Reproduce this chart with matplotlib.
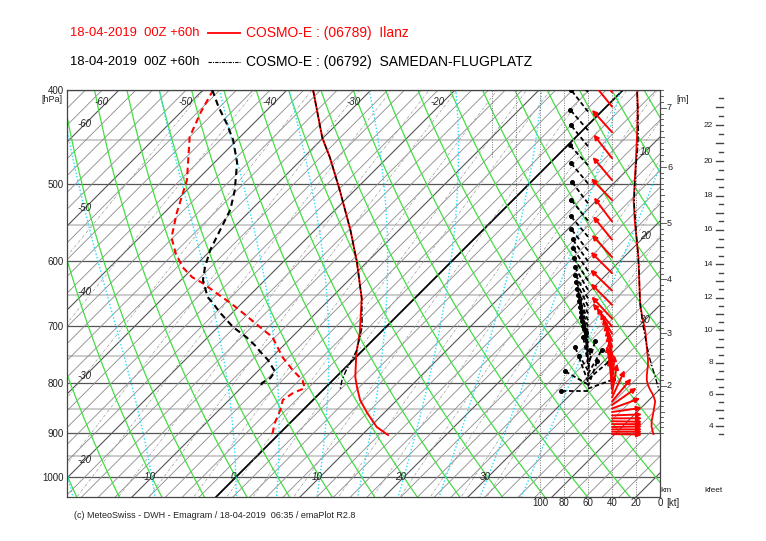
import numpy as np
import matplotlib.pyplot as plt
from matplotlib.lines import Line2D
from matplotlib.patches import FancyArrowPatch
from matplotlib.ticker import NullLocator
from matplotlib.transforms import blended_transform_factory

plt.rcParams['font.family'] = ['Liberation Sans', 'DejaVu Sans']

# ---------------- data ----------------
# Ilanz (06789): temperature and dew point [hPa, degC]
ilanz_p = [400, 448, 469, 507, 557, 601, 655, 711, 746, 789, 808, 833, 859, 888, 905]
ilanz_t = [-36.9, -30.1, -26.9, -21.8, -15.8, -11.2, -6.3, -2.4, -0.4, 2.3, 3.7, 5.6, 8.0, 10.8, 13.1]
ilanz_td_p = [400, 422, 447, 495, 535, 567, 588, 608, 623, 632, 647, 662, 678, 701, 718,
              753, 776, 795, 810, 819, 833, 853, 880, 905]
ilanz_td = [-48.8, -47.6, -46.0, -41.2, -38.5, -36.2, -33.9, -31.4, -29.0, -27.0, -24.2, -21.4,
            -18.7, -15.0, -12.3, -8.7, -6.0, -3.6, -2.4, -3.2, -3.6, -2.7, -1.8, -0.7]

# Samedan (06792)
samedan_p = [400, 448, 469, 507, 557, 601, 655, 700, 718, 741, 763, 779, 795, 813]
samedan_t = [-36.9, -30.1, -26.9, -21.8, -15.8, -11.2, -6.3, -2.9, -1.9, -0.7, 0.0, 0.5, 1.1, 2.0]
samedan_td_p = [400, 416, 433, 450, 475, 507, 531, 557, 584, 608, 627, 653, 662, 678, 701,
                718, 735, 741, 758, 779, 791, 800, 810]
samedan_td = [-48.9, -46.2, -43.2, -40.5, -37.3, -34.3, -32.5, -31.3, -30.1, -28.7, -27.4, -24.8,
              -23.5, -21.4, -18.2, -15.4, -13.0, -12.3, -10.1, -7.9, -7.7, -8.1, -7.7]

# winds: level [hPa], speed [kt], direction the wind comes from [deg]
ilanz_wp = [402, 416, 442, 470, 495, 519, 546, 570, 594, 617, 643, 665, 687, 700, 712, 724, 735,
            746, 756, 766, 776, 786, 795, 804, 812, 820, 828, 836, 843, 850, 857, 864, 870,
            876, 882, 888, 893, 898, 903]
ilanz_ws = [19, 18.5, 19, 20, 21, 22, 21, 19.5, 18, 17.5, 17, 16.5, 14.5, 13, 12, 11.5, 11,
            10.5, 10, 10, 10.5, 11, 11, 10, 8.5, 6.5, 5, 4, 4.5, 5, 5.5, 6, 6.5,
            7, 7, 7, 6.5, 6, 5.5]
ilanz_wd = [141, 141, 138, 142, 140, 136, 143, 141, 138, 135, 134, 135, 137, 140, 150, 158, 163,
            167, 170, 172, 175, 170, 178, 185, 175, 190, 205, 220, 235, 250, 262, 268, 270,
            271, 270, 269, 270, 270, 271]

samedan_wp = [402, 421, 440, 457, 478, 499, 523, 545, 566, 585, 600, 614, 628, 642, 655, 667, 679,
              690, 700, 710, 719, 728, 736, 744, 751, 758, 765, 771, 777, 783, 788, 793, 798,
              803, 807, 811, 815]
samedan_ws = [19, 18.5, 18, 18.5, 20, 21, 21.5, 20.5, 19.5, 18.5, 18, 17.5, 17.2, 17, 16.8, 16.3, 15.5,
              14.8, 14, 13, 12.2, 11.4, 10.6, 9.8, 9, 8.2, 7.2, 6.4, 5.6, 4.8, 4, 3.4, 2.8,
              2.2, 1.7, 1.2, 0.8]
samedan_wd = [140, 142, 139, 141, 138, 140, 143, 141, 140, 142, 145, 147, 148, 150, 152, 154, 156,
              158, 160, 162, 164, 166, 168, 170, 172, 175, 170, 195, 150, 210, 185, 230, 160,
              120, 200, 250, 90]

# height scale on the right: km and matching pressure
height_km = [1, 2, 3, 4, 5, 6, 7, 7.5]
height_p = [911, 805, 711, 626, 548, 480, 417, 389]

pressure_ticks = [400, 500, 600, 700, 800, 900, 1000]
pseudo_tw = [-20, -10, 0, 5, 10, 15, 20, 25, 30, 35]
kt_grid = [20, 40, 60, 80, 100, 120, 140]
kt_grid_pbot = [1048, 1048, 1048, 1048, 1048, 544, 469]
kt_labels = [100, 80, 60, 40, 20, 0]

# ---------------- diagram geometry ----------------
W, H = 766, 541
fig = plt.figure(figsize=(W / 100, H / 100), dpi=100)
ax = fig.add_axes([67 / W, 1 - 497 / H, 593 / W, 407 / H])

P_BOT, P_TOP = 1048, 400
X_L, X_R = -20.1, 50.5
PX_X = 593 / (X_R - X_L)
PX_LN = 407 / np.log(P_BOT / P_TOP)
K = PX_LN / PX_X


def skx(t, p):
    return np.asarray(t, float) + K * np.log(1000.0 / np.asarray(p, float))


def kt2x(kt):
    return X_R - np.asarray(kt, float) * 1.2 / PX_X


def h2p(h):
    return np.exp(np.interp(h, height_km, np.log(height_p)))


def axfx(px):
    return (px - 67) / 593


pp = np.geomspace(P_BOT * 1.01, P_TOP * 0.99, 100)

# pressure lines
for p in range(450, 1000, 100):
    ax.axhline(p, color='#cccccc', lw=1.4, zorder=1)
for p in range(400, 1001, 100):
    ax.axhline(p, color='#555555', lw=0.9, zorder=1)

# isotherms
for t in range(-130, 52, 2):
    if t == 0:
        c, lw = 'black', 1.3
    elif t % 10 == 0:
        c, lw = '#555555', 0.8
    else:
        c, lw = '#8a8a8a', 0.6
    ax.plot(skx(t, pp), pp, color=c, lw=lw, zorder=2)

# mixing ratio lines
for w in [0.1, 0.2, 0.4, 0.7, 1, 1.5, 2, 3, 4, 5, 7, 10, 13, 16, 20, 25, 30]:
    e = w * pp / (622 + w)
    ln = np.log(e / 6.112)
    td = 243.5 * ln / (17.67 - ln)
    ax.plot(skx(td, pp), pp, color='#9a9a9a', lw=0.5, ls=(0, (4, 2, 1, 2)), zorder=2)

# dry adiabats
for th in range(-40, 160, 5):
    tt = (th + 273.15) * (pp / 1000) ** 0.2857 - 273.15
    ax.plot(skx(tt, pp), pp, color='#44dd44', lw=0.9, zorder=2)

# pseudo adiabats
Rd, cp, Lv, eps = 287.04, 1005.7, 2.501e6, 0.622


def dtdlnp(T, p):
    es = 6.112 * np.exp(17.67 * (T - 273.15) / (T - 29.65))
    rs = eps * es / (p - es)
    return (Rd * T + Lv * rs) / (cp + Lv * Lv * rs * eps / (Rd * T * T))


def moist(tw, lnps):
    T = tw + 273.15
    out = [T]
    for a, b in zip(lnps[:-1], lnps[1:]):
        h = b - a
        k1 = dtdlnp(T, np.exp(a))
        k2 = dtdlnp(T + h * k1 / 2, np.exp(a + h / 2))
        k3 = dtdlnp(T + h * k2 / 2, np.exp(a + h / 2))
        k4 = dtdlnp(T + h * k3, np.exp(b))
        T = T + h * (k1 + 2 * k2 + 2 * k3 + k4) / 6
        out.append(T)
    return np.array(out) - 273.15


for tw in pseudo_tw:
    for lnps in (np.linspace(np.log(1000), np.log(390), 80), np.linspace(np.log(1000), np.log(1060), 8)):
        ps = np.exp(lnps)
        ax.plot(skx(moist(tw, lnps), ps), ps, color='#22ddff', lw=1.0, ls=(0, (1, 1.5)), zorder=2)

# wind speed grid
for kt, pb in zip(kt_grid, kt_grid_pbot):
    ax.plot([kt2x(kt)] * 2, [pb, P_TOP], color='#777777', lw=0.7, ls=(0, (1, 1.5)), zorder=2)

# ---------------- soundings ----------------
ax.plot(skx(ilanz_t, ilanz_p), ilanz_p, color='red', lw=1.4, zorder=5)
ax.plot(skx(ilanz_td, ilanz_td_p), ilanz_td_p, color='red', lw=1.5, ls=(0, (3, 2)), zorder=5)
ax.plot(skx(samedan_t, samedan_p), samedan_p, color='black', lw=1.0, ls=(0, (4, 1.5, 1, 1.5)), zorder=6)
ax.plot(skx(samedan_td, samedan_td_p), samedan_td_p, color='black', lw=1.5, ls=(0, (3, 2)), zorder=6)

# wind speed profiles
ax.plot(kt2x(ilanz_ws), ilanz_wp, color='red', lw=1.3, zorder=5)
ax.plot(kt2x(samedan_ws), samedan_wp, color='black', lw=1.0, ls=(0, (4, 1.5, 1, 1.5)), zorder=6)


def arrow_end(x0, p, d, L):
    th = np.deg2rad(d + 180)
    return x0 + L * np.sin(th) / PX_X, p * np.exp(-L * np.cos(th) / PX_LN)


x_red = kt2x(40)
for p, d in zip(ilanz_wp, ilanz_wd):
    x1, p1 = arrow_end(x_red, p, d, 30)
    ax.add_patch(FancyArrowPatch((x_red, p), (x1, p1), arrowstyle='-|>', mutation_scale=7,
                                 color='red', lw=1.4, shrinkA=0, shrinkB=0, zorder=5))

x_blk = kt2x(60)
for p, d in zip(samedan_wp, samedan_wd):
    x1, p1 = arrow_end(x_blk, p, d, 27)
    ax.plot([x_blk, x1], [p, p1], color='black', lw=1.3, ls=(0, (2.5, 1.5)), zorder=4)
    ax.plot([x1], [p1], marker='o', ms=2.6, color='black', zorder=4)

# ---------------- labels ----------------
lab = dict(fontsize=7, style='italic', color='#222222', ha='center', va='center', zorder=7)
for t in [-60, -50, -40, -30, -20]:
    ax.text(skx(t, 412) - 0.6, 412, str(t), **lab)
for t in [-60, -50, -40, -30, -20]:
    xl = -18.0
    ax.text(xl, 1000 * np.exp(-(xl - t) / K), str(t), **lab)
for t in [-10, 0, 10, 20, 30]:
    ax.text(t - 0.35, 1000, str(t), **lab)
for t in [10, 20, 30]:
    xl = X_L + (645 - 67) / PX_X
    ax.text(xl, 1000 * np.exp(-(xl - t) / K), str(t), **lab)

ax.set_xlim(X_L, X_R)
ax.set_yscale('log')
ax.set_ylim(P_BOT, P_TOP)
ax.yaxis.set_minor_locator(NullLocator())
ax.set_yticks(pressure_ticks)
ax.set_yticklabels([str(p) for p in pressure_ticks])
ax.set_xticks([])
ax.tick_params(axis='y', length=0, pad=2.5, labelsize=7, labelcolor='#222222')
for s in ax.spines.values():
    s.set_color('#444444')
    s.set_linewidth(0.9)

trans = blended_transform_factory(ax.transData, ax.transAxes)
for k in kt_labels:
    ax.text(kt2x(k), -0.0147, str(k), transform=trans, fontsize=7, ha='center', va='center', color='#222222')
ax.text(axfx(673), -0.0147, '[kt]', transform=ax.transAxes, fontsize=7, ha='center', va='center', color='#222222')

# height scales
tr = blended_transform_factory(ax.transAxes, ax.transData)
for h in np.arange(1.1, 7.31, 0.1):
    p = h2p(h)
    if abs(h - round(h)) < 0.01:
        x2 = 666
    elif abs(h * 2 - round(h * 2)) < 0.01:
        x2 = 664
    else:
        x2 = 662.5
    ax.plot([axfx(660), axfx(x2)], [p, p], transform=tr, clip_on=False, color='#444444', lw=0.6)
for h in range(2, 8):
    ax.text(axfx(667), h2p(h), str(h), transform=tr, fontsize=6.5, ha='left', va='center', color='#222222')
for kf in np.arange(3.5, 23.6, 0.5):
    p = h2p(kf * 0.3048)
    x1 = 716 if abs(kf - round(kf)) < 0.01 else 719
    ax.plot([axfx(x1), axfx(723)], [p, p], transform=tr, clip_on=False, color='#444444', lw=1.0)
for kf in range(4, 23, 2):
    ax.text(axfx(713), h2p(kf * 0.3048), str(kf), transform=tr, fontsize=6, ha='right', va='center', color='#222222')

ax.text(axfx(683), (497 - 100) / 407, '[m]', transform=ax.transAxes, fontsize=6.5, ha='center', va='center', color='#222222')
ax.text(axfx(666), (497 - 491) / 407, 'km', transform=ax.transAxes, fontsize=6, ha='center', va='center', color='#222222')
ax.text(axfx(713), (497 - 491) / 407, 'kfeet', transform=ax.transAxes, fontsize=6, ha='center', va='center', color='#222222')
fig.text(62 / W, 1 - 100 / H, '[hPa]', fontsize=6.5, ha='right', va='center', color='#222222')

# header and footer
for y, col, stn, ls, lw in [(33, 'red', '(06789)  Ilanz', '-', 1.3),
                            (62, 'black', '(06792)  SAMEDAN-FLUGPLATZ', (0, (3, 1, 1, 1)), 0.8)]:
    fig.text(70 / W, 1 - y / H, '18-04-2019  00Z +60h', color=col, fontsize=9.4, va='center')
    fig.add_artist(Line2D([208 / W, 240 / W], [1 - y / H] * 2, color=col, lw=lw, ls=ls))
    fig.text(246 / W, 1 - y / H, 'COSMO-E : ' + stn, color=col, fontsize=10, va='center')

fig.text(74 / W, 1 - 516 / H, '(c) MeteoSwiss - DWH - Emagram / 18-04-2019  06:35 / emaPlot R2.8',
         fontsize=6.5, va='center', color='#222222')

fig.savefig('out.png', dpi=100)
